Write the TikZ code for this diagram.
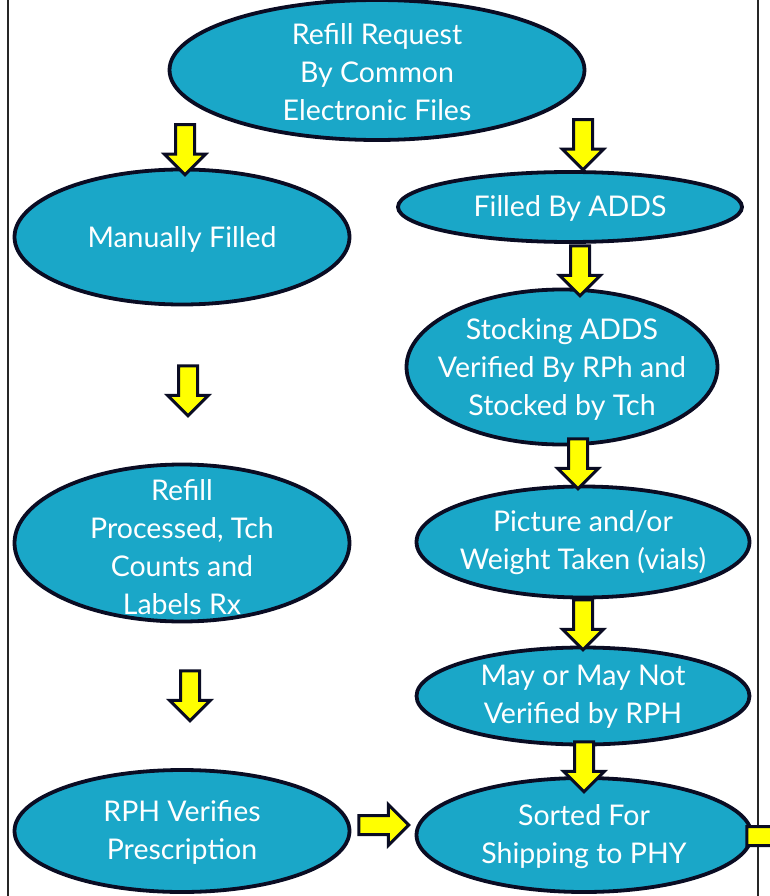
\documentclass[tikz,border=0pt]{standalone}
\usepackage{fontspec}
\setmainfont{Lato}
\usetikzlibrary{shapes.geometric,shapes.arrows}
\definecolor{myteal}{RGB}{26,167,200}
\definecolor{mynavy}{RGB}{10,12,35}
\definecolor{myyellow}{RGB}{255,255,0}

\begin{document}
\begin{tikzpicture}[x=1pt,y=-1pt,
  stepnode/.style={ellipse, draw=mynavy, line width=3.8pt, fill=myteal, inner sep=0pt},
  steptext/.style={text=white, align=center, inner sep=0pt, font=\fontsize{28.5}{38}\selectfont},
  downarrow/.style={single arrow, draw=mynavy, line width=3pt, fill=myyellow, inner xsep=0pt, inner ysep=8pt,
    single arrow head extend=11pt, single arrow tip angle=90, minimum height=50pt, rotate=-90},
  rightarrow/.style={downarrow, rotate=90}]
\useasboundingbox (0,0) rectangle (769,896);

% Frame
\draw[line width=1.5pt, black!85] (8,-10) -- (8,906);
\draw[line width=1.5pt, black!85] (758,-10) -- (758,906);

% Ellipses
\node[stepnode, minimum width=415pt, minimum height=140pt] (request) at (377,70) {};
\node[stepnode, minimum width=335pt, minimum height=135pt] (manual) at (182,237) {};
\node[stepnode, minimum width=344pt, minimum height=70pt] (adds) at (570,207) {};
\node[stepnode, minimum width=311pt, minimum height=155pt] (stocking) at (562,367) {};
\node[stepnode, minimum width=335pt, minimum height=157pt] (processed) at (182,543) {};
\node[stepnode, minimum width=333pt, minimum height=111pt] (picture) at (583,542) {};
\node[stepnode, minimum width=333pt, minimum height=97pt] (maybe) at (583,696) {};
\node[stepnode, minimum width=335pt, minimum height=122pt] (rphverify) at (182,831) {};
\node[stepnode, minimum width=335pt, minimum height=114pt] (sorted) at (584,835) {};

% Texts
\node[steptext] (request-text) at ([yshift=-2pt]request) {Refill Request\\By Common\\Electronic Files};
\node[steptext] (manual-text) at ([yshift=-2pt]manual) {Manually Filled};
\node[steptext] (adds-text) at ([yshift=-1pt]adds) {Filled By ADDS};
\node[steptext] (stocking-text) at ([yshift=-2pt]stocking) {Stocking ADDS\\Verified By RPh and\\Stocked by Tch};
\node[steptext] (processed-text) at ([yshift=-4pt]processed) {Refill\\Processed, Tch\\Counts and\\Labels Rx};
\node[steptext] (picture-text) at ([yshift=-1pt]picture) {Picture and/or\\Weight Taken (vials)};
\node[steptext] (maybe-text) at ([yshift=-1pt]maybe) {May or May Not\\Verified by RPH};
\node[steptext] (rphverify-text) at ([yshift=-1pt]rphverify) {RPH Verifies\\Prescription};
\node[steptext] (sorted-text) at ([yshift=-2pt]sorted) {Sorted For\\Shipping to PHY};

% Block arrows
\node[downarrow] (arrow1) at (185,145) {};
\node[downarrow] (arrow2) at (583,140) {};
\node[downarrow] (arrow3) at (580,266) {};
\node[downarrow] (arrow4) at (188,386) {};
\node[downarrow] (arrow5) at (578,459) {};
\node[downarrow] (arrow6) at (583,620) {};
\node[downarrow] (arrow7) at (190,691) {};
\node[downarrow] (arrow8) at (584,762) {};
\node[rightarrow] (arrow9) at (379,825) {};
\node[rightarrow] (arrow10) at (767,836) {};
\end{tikzpicture}
\end{document}
